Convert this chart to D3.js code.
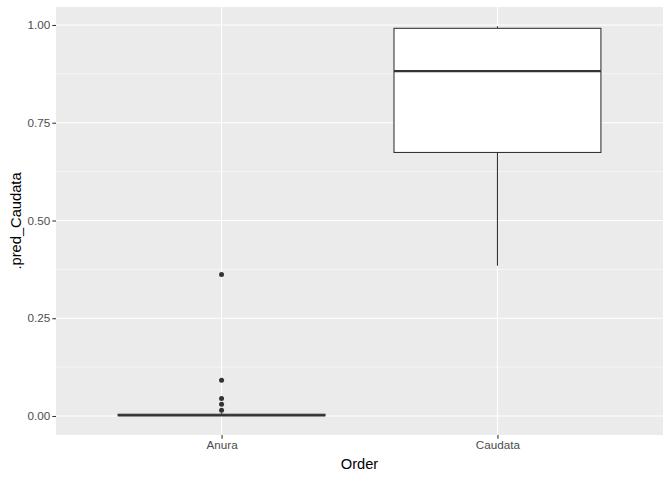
<!DOCTYPE html>
<html><head><meta charset="utf-8">
<script src="https://cdn.jsdelivr.net/npm/d3@7/dist/d3.min.js"></script>
<style>body{margin:0;background:#fff}svg{display:block}text{font-family:"Liberation Sans",Arial,sans-serif}</style>
</head><body>
<svg id="chart" width="672" height="480"></svg>
<script>
const categories = ["Anura", "Caudata"];
const whiskerLow = [0.0, 0.384];
const q1 = [0.0005, 0.674];
const median = [0.002, 0.882];
const q3 = [0.0045, 0.9915];
const whiskerHigh = [0.008, 0.997];
const outliers = [[0.362, 0.0913, 0.045, 0.030, 0.0146], []];
const yTicks = [0, 0.25, 0.5, 0.75, 1.0];
const yMinor = [0.125, 0.375, 0.625, 0.875];
const xTitle = "Order";
const yTitle = ".pred_Caudata";

const W = 672, H = 480;
const m = {left: 56, right: 9, top: 7, bottom: 45};
const svg = d3.select("#chart");
const pw = W - m.left - m.right, ph = H - m.top - m.bottom;

const x = d3.scaleLinear().domain([0.4, 2.6]).range([m.left, m.left + pw]);
const y = d3.scaleLinear().domain([-0.0486, 1.046]).range([m.top + ph, m.top]);

const g = svg.append("g");
g.append("rect").attr("x", m.left).attr("y", m.top).attr("width", pw).attr("height", ph).attr("fill", "#EBEBEB");
g.selectAll(".minor").data(yMinor).join("line")
  .attr("x1", m.left).attr("x2", m.left + pw)
  .attr("y1", d => y(d)).attr("y2", d => y(d))
  .attr("stroke", "#fff").attr("stroke-width", 0.53);
g.selectAll(".majorY").data(yTicks).join("line")
  .attr("x1", m.left).attr("x2", m.left + pw)
  .attr("y1", d => y(d)).attr("y2", d => y(d))
  .attr("stroke", "#fff").attr("stroke-width", 1.07);
g.selectAll(".majorX").data(categories).join("line")
  .attr("x1", (d, i) => x(i + 1)).attr("x2", (d, i) => x(i + 1))
  .attr("y1", m.top).attr("y2", m.top + ph)
  .attr("stroke", "#fff").attr("stroke-width", 1.07);

const bw = 0.75;
const data = categories.map((c, i) => ({c, i, lo: whiskerLow[i], q1: q1[i], med: median[i], q3: q3[i], hi: whiskerHigh[i], out: outliers[i]}));
const bg = g.selectAll(".box").data(data).join("g");
bg.append("line").attr("x1", d => x(d.i + 1)).attr("x2", d => x(d.i + 1))
  .attr("y1", d => y(d.q3)).attr("y2", d => y(d.hi)).attr("stroke", "#333").attr("stroke-width", 1.07);
bg.append("line").attr("x1", d => x(d.i + 1)).attr("x2", d => x(d.i + 1))
  .attr("y1", d => y(d.q1)).attr("y2", d => y(d.lo)).attr("stroke", "#333").attr("stroke-width", 1.07);
bg.append("rect").attr("x", d => x(d.i + 1 - bw / 2)).attr("width", d => x(d.i + 1 + bw / 2) - x(d.i + 1 - bw / 2))
  .attr("y", d => y(d.q3)).attr("height", d => y(d.q1) - y(d.q3))
  .attr("fill", "#fff").attr("stroke", "#333").attr("stroke-width", 1.07);
bg.append("line").attr("x1", d => x(d.i + 1 - bw / 2)).attr("x2", d => x(d.i + 1 + bw / 2))
  .attr("y1", d => y(d.med)).attr("y2", d => y(d.med)).attr("stroke", "#333").attr("stroke-width", 2.13);
bg.each(function(d) {
  d3.select(this).selectAll("circle").data(d.out).join("circle")
    .attr("cx", x(d.i + 1)).attr("cy", v => y(v)).attr("r", 2.5).attr("fill", "#333");
});

const yAxis = d3.axisLeft(y).tickValues(yTicks).tickFormat(d3.format(".2f")).tickSize(3.67).tickPadding(2.2);
const ya = svg.append("g").attr("transform", `translate(${m.left},0)`).call(yAxis);
ya.select(".domain").remove();
ya.selectAll("line").attr("stroke", "#333").attr("stroke-width", 1.07);
ya.selectAll("text").attr("fill", "#4D4D4D").style("font-size", "11.7px");

const xAxis = d3.axisBottom(x).tickValues([1, 2]).tickFormat(d => categories[d - 1]).tickSize(3.67).tickPadding(2.5);
const xa = svg.append("g").attr("transform", `translate(0,${m.top + ph})`).call(xAxis);
xa.select(".domain").remove();
xa.selectAll("line").attr("stroke", "#333").attr("stroke-width", 1.07);
xa.selectAll("text").attr("fill", "#4D4D4D").style("font-size", "11.7px");

svg.append("text").attr("x", m.left + pw / 2).attr("y", 469).attr("text-anchor", "middle")
  .style("font-size", "14.7px").attr("fill", "#000").text(xTitle);
svg.append("text").attr("transform", `translate(21,${m.top + ph / 2}) rotate(-90)`).attr("text-anchor", "middle")
  .style("font-size", "14.7px").attr("fill", "#000").text(yTitle);
</script>
</body></html>
